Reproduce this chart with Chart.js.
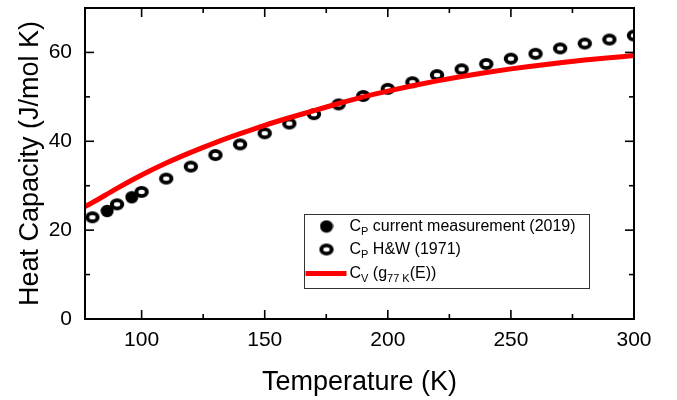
<!DOCTYPE html>
<html><head><meta charset="utf-8">
<script src="https://cdn.jsdelivr.net/npm/chart.js@4.4.1/dist/chart.umd.min.js"></script>
<style>html,body{margin:0;padding:0;background:#fff}#wrap{width:677px;height:400px;position:relative}</style>
</head><body><div id="wrap"><canvas id="c" width="677" height="400"></canvas></div>
<script>
// ---- data ----
const hwTemps = [80,90,100,110,120,130,140,150,160,170,180,190,200,210,220,230,240,250,260,270,280,290,300];
const hwCp    = [22.9,25.8,28.6,31.6,34.3,36.9,39.3,41.8,44.0,46.1,48.3,50.2,51.8,53.3,54.9,56.2,57.4,58.6,59.7,60.9,62.0,62.9,63.8];
const curTemps = [86,96];
const curCp    = [24.3,27.4];
const cvTemps  = [77,80,90,100,110,120,130,140,150,160,170,180,190,200,210,220,230,240,250,260,270,280,290,300];
const cvValues = [25.3,26.2,29.4,32.4,35.1,37.5,39.7,41.7,43.6,45.3,46.9,48.5,50.0,51.3,52.5,53.6,54.6,55.5,56.3,57.0,57.7,58.3,58.8,59.3];
const xTickValues  = [100,150,200,250,300];
const xMinorValues = [125,175,225,275];
const yTickValues  = [0,20,40,60];
const yMinorValues = [10,30,50];
const legendLabels = [
  [['C',''],['P','sub'],[' current measurement (2019)','']],
  [['C',''],['P','sub'],[' H&W (1971)','']],
  [['C',''],['V','sub'],[' (g',''],['77 K','sub'],['(E))','']]
];

const FONT = '"Liberation Sans", Arial, sans-serif';

function makeOpenMarker(){
  const c = document.createElement('canvas'); c.width = 16; c.height = 14;
  const g = c.getContext('2d');
  g.fillStyle = '#000'; g.beginPath(); g.ellipse(8,7,7.2,6.0,0,0,Math.PI*2); g.fill();
  g.fillStyle = '#fff'; g.beginPath(); g.ellipse(8,7,3.2,2.2,0,0,Math.PI*2); g.fill();
  return c;
}
function makeFilledMarker(){
  const c = document.createElement('canvas'); c.width = 14; c.height = 14;
  const g = c.getContext('2d');
  g.fillStyle = '#000'; g.beginPath(); g.ellipse(7,7,6.5,6.2,0,0,Math.PI*2); g.fill();
  return c;
}
const openMarker = makeOpenMarker();
const filledMarker = makeFilledMarker();

const frameTicks = {
  id: 'frameTicks',
  afterDraw(chart){
    const {ctx, chartArea: a, scales: {x, y}} = chart;
    ctx.save();
    ctx.strokeStyle = '#000';
    ctx.lineWidth = 1.6;
    const major = 9, minor = 5;
    const tick = (vals, len) => {
      vals.forEach(v => {
        const px = x.getPixelForValue(v);
        ctx.beginPath(); ctx.moveTo(px, a.bottom); ctx.lineTo(px, a.bottom - len); ctx.stroke();
        ctx.beginPath(); ctx.moveTo(px, a.top); ctx.lineTo(px, a.top + len); ctx.stroke();
      });
    };
    const tickY = (vals, len) => {
      vals.forEach(v => {
        const py = y.getPixelForValue(v);
        ctx.beginPath(); ctx.moveTo(a.left, py); ctx.lineTo(a.left + len, py); ctx.stroke();
        ctx.beginPath(); ctx.moveTo(a.right, py); ctx.lineTo(a.right - len, py); ctx.stroke();
      });
    };
    tick(xTickValues, major); tick(xMinorValues, minor);
    tickY(yTickValues, major); tickY(yMinorValues, minor);
    ctx.lineWidth = 2;
    ctx.strokeRect(a.left, a.top, a.right - a.left, a.bottom - a.top);

    // legend
    const lx = a.left + 219.5, ly = a.top + 206.5, lw = 285, lh = 74;
    ctx.fillStyle = '#fff';
    ctx.fillRect(lx, ly, lw, lh);
    ctx.lineWidth = 1; ctx.strokeStyle = '#333';
    ctx.strokeRect(lx, ly, lw, lh);
    const rows = [ly + 12, ly + 35, ly + 59];
    const mx = lx + 22;
    ctx.drawImage(filledMarker, mx - 7, rows[0] - 7);
    ctx.drawImage(openMarker, mx - 8, rows[1] - 7);
    ctx.strokeStyle = '#ff0000'; ctx.lineWidth = 5;
    ctx.beginPath(); ctx.moveTo(lx + 1, rows[2]); ctx.lineTo(lx + 42, rows[2]); ctx.stroke();
    ctx.fillStyle = '#000'; ctx.textBaseline = 'middle'; ctx.textAlign = 'left';
    legendLabels.forEach((parts, i) => {
      let tx = lx + 45;
      parts.forEach(([t, kind]) => {
        if (kind === 'sub') {
          ctx.font = '11px ' + FONT;
          ctx.fillText(t, tx, rows[i] + 5);
        } else {
          ctx.font = '16px ' + FONT;
          ctx.fillText(t, tx, rows[i]);
        }
        tx += ctx.measureText(t).width;
      });
    });
    ctx.restore();
  }
};

new Chart(document.getElementById('c'), {
  type: 'scatter',
  data: {
    datasets: [
      {
        label: 'CV (g77K(E))', type: 'line', order: 0,
        data: cvTemps.map((t, i) => ({x: t, y: cvValues[i]})),
        borderColor: '#ff0000', borderWidth: 5, pointRadius: 0, fill: false,
        cubicInterpolationMode: 'monotone', clip: 0
      },
      {
        label: 'CP H&W (1971)', order: 1,
        data: hwTemps.map((t, i) => ({x: t, y: hwCp[i]})),
        pointStyle: openMarker, pointRadius: 7, clip: 0
      },
      {
        label: 'CP current measurement (2019)', order: 2,
        data: curTemps.map((t, i) => ({x: t, y: curCp[i]})),
        pointStyle: filledMarker, pointRadius: 7, clip: 0
      }
    ]
  },
  options: {
    responsive: false, animation: false, devicePixelRatio: 1,
    layout: {padding: {top: 5, right: 43, left: 0, bottom: 0}},
    plugins: {legend: {display: false}, tooltip: {enabled: false}},
    scales: {
      x: {
        type: 'linear', min: 77, max: 300,
        afterBuildTicks: s => { s.ticks = xTickValues.map(v => ({value: v})); },
        afterFit: s => { s.height = 81; s.paddingLeft = 0; s.paddingRight = 0; },
        grid: {display: false, drawTicks: false}, border: {display: false},
        ticks: {color: '#000', padding: 9, maxRotation: 0, font: {family: FONT, size: 21}},
        title: {display: true, text: 'Temperature (K)', color: '#000',
                font: {family: FONT, size: 27, lineHeight: 1}, padding: {top: 0, bottom: 4}}
      },
      y: {
        type: 'linear', min: 0, max: 70,
        afterBuildTicks: s => { s.ticks = yTickValues.map(v => ({value: v})); },
        afterFit: s => { s.width = 85; s.paddingTop = 0; s.paddingBottom = 0; },
        grid: {display: false, drawTicks: false}, border: {display: false},
        ticks: {color: '#000', padding: 13, font: {family: FONT, size: 21}},
        title: {display: true, text: 'Heat Capacity (J/mol K)', color: '#000',
                font: {family: FONT, size: 27, lineHeight: 1}, padding: {top: 17, bottom: 0}}
      }
    }
  },
  plugins: [frameTicks]
});
</script>
</body></html>
